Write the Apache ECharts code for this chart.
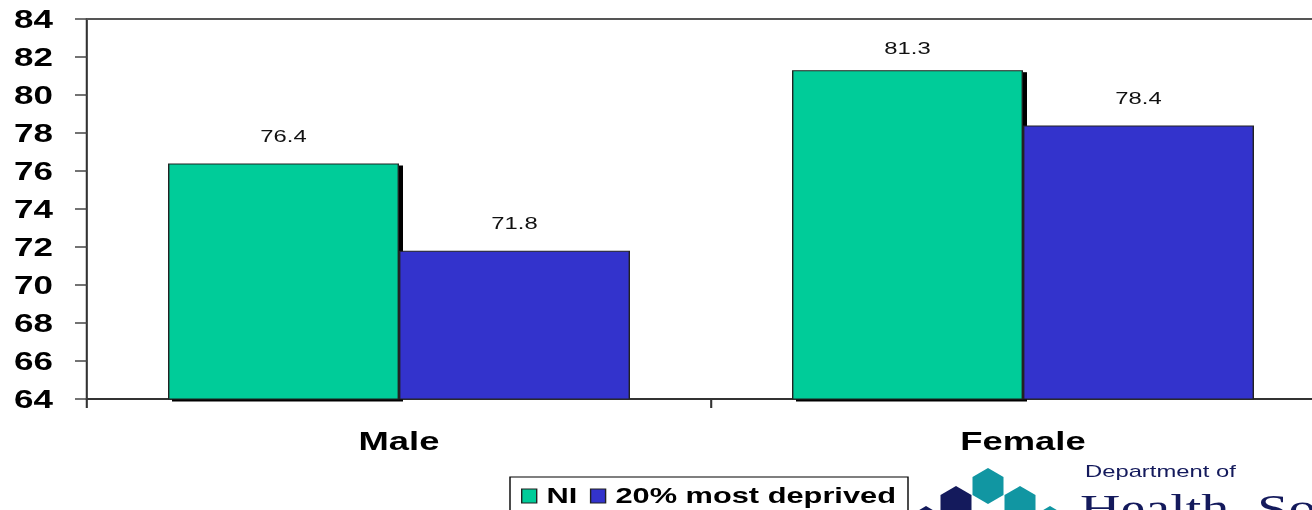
<!DOCTYPE html>
<html>
<head>
<meta charset="utf-8">
<script src="https://cdn.jsdelivr.net/npm/echarts@6/dist/echarts.min.js"></script>
<style>
  html, body { margin: 0; padding: 0; background: #fff; overflow: hidden; }
  #wrap { width: 1312px; height: 510px; overflow: hidden; position: relative; }
  #chart { position: absolute; left: 0; top: 0; height: 510px; transform-origin: 0 0; }
</style>
</head>
<body>
<div id="wrap"><div id="chart"></div></div>
<script>
// ---- data ----
const categories = ['Male', 'Female'];
const seriesNames = ['NI', '20% most deprived'];
const niValues = [76.4, 81.3];
const deprivedValues = [71.8, 78.4];
const yMin = 64, yMax = 84, yInterval = 2;

// ---- layout (the original is horizontally stretched; the plot runs past the right edge) ----
const S = 1.4;
const FULL = 1400;            // drawn width in final pixels, clipped to 1312
const W = FULL / S;
const el = document.getElementById('chart');
el.style.width = W + 'px';
el.style.transform = 'scaleX(' + S + ')';

const chart = echarts.init(el, null, { renderer: 'svg', width: W, height: 510 });

function hex(cx, cy, w, color) {
  const h = w * 2 / Math.sqrt(3);
  const pts = [
    [cx, cy - h / 2], [cx + w / 2, cy - h / 4], [cx + w / 2, cy + h / 4],
    [cx, cy + h / 2], [cx - w / 2, cy + h / 4], [cx - w / 2, cy - h / 4]
  ].map(p => [p[0] / S, p[1]]);
  return { type: 'polygon', shape: { points: pts }, style: { fill: color }, silent: true };
}

const navy = '#141a5c';
const teal = '#1196a2';
const font = 'Liberation Sans, Arial, sans-serif';

// the top label sits a little closer to its bar in the original (near the plot top)
const niData = niValues.map((v, i) => (v === Math.max(...niValues) ? { value: v, label: { distance: 14 } } : v));

chart.setOption({
  animation: false,
  backgroundColor: '#fff',
  grid: { left: 87 / S, top: 19, width: 1248 / S, height: 380 },
  legend: {
    data: seriesNames,
    left: 521 / S,
    top: 485,
    padding: 0,
    itemGap: 9,
    itemWidth: 15 / S,
    itemHeight: 14,
    icon: 'rect',
    itemStyle: { borderColor: '#222', borderWidth: 1 },
    textStyle: { fontFamily: font, fontWeight: 'bold', fontSize: 22, color: '#000', padding: [0, 0, 0, 2] }
  },
  xAxis: [{
    type: 'category',
    data: categories,
    axisLine: { lineStyle: { color: '#333', width: 2 } },
    axisTick: { show: true, length: 9, lineStyle: { color: '#333', width: 1.5 } },
    axisLabel: { margin: 29, fontFamily: font, fontWeight: 'bold', fontSize: 26, color: '#000' }
  }, {
    type: 'category',
    data: categories,
    position: 'top',
    axisLine: { show: true, lineStyle: { color: '#555', width: 2 } },
    axisTick: { show: false },
    axisLabel: { show: false }
  }],
  yAxis: {
    type: 'value',
    min: yMin, max: yMax, interval: yInterval,
    axisLine: { show: true, lineStyle: { color: '#333', width: 1.5 } },
    axisTick: { show: true, length: 12 / S, lineStyle: { color: '#444', width: 1.5 } },
    splitLine: { show: false },
    axisLabel: { margin: 34 / S, fontFamily: font, fontWeight: 'bold', fontSize: 25, color: '#000' }
  },
  series: [{
    name: seriesNames[0],
    type: 'bar',
    data: niData,
    barWidth: 231 / S,
    barGap: '0%',
    itemStyle: { color: '#00cc99', borderColor: '#222', borderWidth: 1, shadowColor: '#000', shadowOffsetX: 4 / S, shadowOffsetY: 2, shadowBlur: 0 },
    label: { show: true, position: 'top', distance: 19, fontFamily: font, fontSize: 17, color: '#111' }
  }, {
    name: seriesNames[1],
    type: 'bar',
    data: deprivedValues,
    barWidth: 231 / S,
    itemStyle: { color: '#3333cc', borderColor: '#222', borderWidth: 1 },
    label: { show: true, position: 'top', distance: 19, fontFamily: font, fontSize: 17, color: '#111' }
  }],
  graphic: [
    { type: 'rect', shape: { x: 510 / S, y: 477, width: 398 / S, height: 50 }, style: { fill: 'none', stroke: '#000', lineWidth: 1 }, silent: true, z: -1 },
    hex(988, 486, 31, teal),
    hex(956, 504, 31, navy),
    hex(1020, 504, 31, teal),
    hex(926, 524, 31, navy),
    hex(1050, 524, 31, teal),
    { type: 'text', left: 1085 / S, top: 462, silent: true,
      style: { text: 'Department of', fontFamily: font, fontSize: 17, fill: navy } },
    { type: 'text', left: 1080 / S, top: 489, silent: true,
      style: { text: 'Health, Social Services and Public Safety', fontFamily: 'Liberation Serif, Times New Roman, serif', fontSize: 40, fill: navy } }
  ]
});
</script>
</body>
</html>
